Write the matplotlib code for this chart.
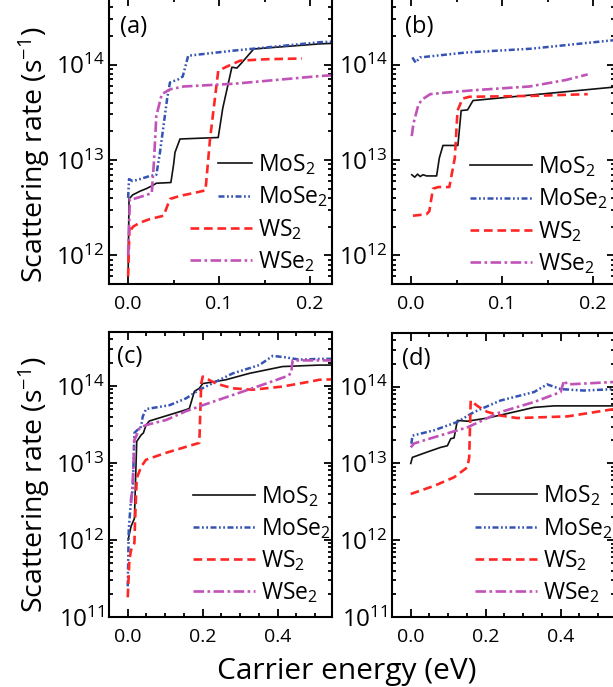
import numpy as np
import matplotlib
matplotlib.use('Agg')
import matplotlib.pyplot as plt
from matplotlib.ticker import LogLocator, MultipleLocator, FuncFormatter

plt.rcParams['font.family'] = ['Open Sans', 'DejaVu Sans']
plt.rcParams['mathtext.fontset'] = 'custom'
plt.rcParams['mathtext.rm'] = 'Open Sans'
plt.rcParams['mathtext.it'] = 'Open Sans:italic'
plt.rcParams['mathtext.bf'] = 'Open Sans:bold'
plt.rcParams['mathtext.default'] = 'regular'

labels = ['MoS$_2$', 'MoSe$_2$', 'WS$_2$', 'WSe$_2$']
panel_letters = ['(a)', '(b)', '(c)', '(d)']

# ---- panel (a) ----
a_mos2_x = [0, 0.001, 0.005, 0.013, 0.02, 0.027, 0.031, 0.047, 0.050, 0.0515, 0.057, 0.099, 0.104, 0.114, 0.1195, 0.125, 0.138, 0.21, 0.23]
a_mos2_y = [6e11, 3.9e12, 4.3e12, 4.7e12, 5.0e12, 5.4e12, 5.7e12, 5.8e12, 9e12, 1.2e13, 1.66e13, 1.72e13, 3.5e13, 9.4e13, 9.2e13, 1.05e14, 1.46e14, 1.65e14, 1.68e14]
a_mose2_x = [0, 0.001, 0.005, 0.013, 0.024, 0.031, 0.035, 0.043, 0.046, 0.055, 0.060, 0.066, 0.115, 0.211, 0.23]
a_mose2_y = [4e12, 6.3e12, 6.0e12, 6.3e12, 6.8e12, 7.0e12, 1.2e13, 4.5e13, 6.5e13, 7.0e13, 7.5e13, 1.24e14, 1.4e14, 1.72e14, 1.75e14]
a_ws2_x = [0, 0.0015, 0.003, 0.0055, 0.013, 0.024, 0.039, 0.046, 0.057, 0.072, 0.085, 0.09, 0.099, 0.108, 0.123, 0.152, 0.191]
a_ws2_y = [6e11, 2e12, 1.85e12, 2.0e12, 2.2e12, 2.4e12, 2.6e12, 3.9e12, 4.2e12, 4.5e12, 4.8e12, 1.66e13, 8.6e13, 9.5e13, 1.1e14, 1.14e14, 1.16e14]
a_wse2_x = [0, 0.002, 0.006, 0.017, 0.026, 0.0283, 0.031, 0.037, 0.046, 0.061, 0.116, 0.211, 0.23]
a_wse2_y = [1e12, 3.9e12, 3.9e12, 4.2e12, 4.5e12, 9.3e12, 2.9e13, 4.9e13, 5.5e13, 5.9e13, 6.3e13, 7.6e13, 7.8e13]

# ---- panel (b) ----
b_mos2_x = [0.0007, 0.004, 0.007, 0.010, 0.013, 0.017, 0.021, 0.028, 0.031, 0.035, 0.0514, 0.055, 0.062, 0.068, 0.23]
b_mos2_y = [7e12, 6.6e12, 7.1e12, 6.7e12, 7.0e12, 6.8e12, 6.8e12, 6.8e12, 1.05e13, 1.42e13, 1.42e13, 3.3e13, 3.35e13, 4.2e13, 5.9e13]
b_mose2_x = [0.0014, 0.005, 0.0097, 0.06, 0.132, 0.219, 0.23]
b_mose2_y = [1.19e14, 1.05e14, 1.19e14, 1.34e14, 1.47e14, 1.79e14, 1.82e14]
b_ws2_x = [0.002, 0.017, 0.020, 0.024, 0.030, 0.042, 0.048, 0.051, 0.0565, 0.064, 0.133, 0.194]
b_ws2_y = [2.6e12, 2.7e12, 2.9e12, 5.0e12, 5.2e12, 5.2e12, 1.05e13, 3.3e13, 4.4e13, 4.6e13, 4.7e13, 4.9e13]
b_wse2_x = [0.0007, 0.0025, 0.008, 0.012, 0.021, 0.039, 0.07, 0.13, 0.17, 0.194]
b_wse2_y = [1.78e13, 2.4e13, 3.8e13, 4.3e13, 4.9e13, 5.1e13, 5.4e13, 5.9e13, 6.9e13, 7.9e13]

# ---- panel (c) ----
c_mos2_x = [0.001, 0.0027, 0.0089, 0.0178, 0.024, 0.0356, 0.0418, 0.0489, 0.0578, 0.1556, 0.1644, 0.178, 0.191, 0.2, 0.262, 0.324, 0.413, 0.511, 0.56]
c_mos2_y = [1.0e12, 1.1e12, 1.5e12, 1.9e12, 1.9e13, 2.3e13, 2.45e13, 3.1e13, 3.5e13, 4.9e13, 5.1e13, 8.5e13, 9.3e13, 1.07e14, 1.2e14, 1.45e14, 1.78e14, 1.86e14, 1.86e14]
c_mose2_x = [0, 0.0027, 0.0089, 0.0133, 0.0178, 0.0267, 0.0356, 0.04, 0.0489, 0.111, 0.156, 0.191, 0.28, 0.351, 0.387, 0.422, 0.458, 0.511, 0.56]
c_mose2_y = [2.5e11, 1.35e12, 3.5e12, 4.5e12, 2.45e13, 2.7e13, 2.95e13, 4.0e13, 5.0e13, 5.6e13, 6.9e13, 8.9e13, 1.45e14, 1.86e14, 2.45e14, 2.34e14, 2.19e14, 2.24e14, 2.24e14]
c_ws2_x = [0, 0.0044, 0.0089, 0.0178, 0.0196, 0.024, 0.0356, 0.0489, 0.102, 0.156, 0.191, 0.196, 0.2, 0.236, 0.28, 0.333, 0.413, 0.493, 0.511, 0.56]
c_ws2_y = [1.8e11, 5.5e11, 7.4e11, 9.1e11, 1.8e12, 6.3e12, 8.9e12, 1.1e13, 1.35e13, 1.62e13, 1.82e13, 1.07e14, 1.32e14, 1.07e14, 9.3e13, 8.9e13, 9.8e13, 1.15e14, 1.2e14, 1.22e14]
c_wse2_x = [0.0089, 0.0133, 0.0178, 0.0222, 0.031, 0.0489, 0.102, 0.156, 0.2, 0.28, 0.369, 0.422, 0.436, 0.44, 0.511, 0.56]
c_wse2_y = [3.0e12, 5.5e12, 2.0e13, 2.2e13, 2.8e13, 3.1e13, 3.6e13, 4.7e13, 5.6e13, 7.6e13, 1.07e14, 1.32e14, 1.45e14, 2.14e14, 2.14e14, 2.14e14]

# ---- panel (d) ----
d_mos2_x = [0, 0.0044, 0.0444, 0.08, 0.0978, 0.1067, 0.1156, 0.1244, 0.151, 0.2044, 0.258, 0.329, 0.382, 0.542, 0.56]
d_mos2_y = [1.0e13, 1.2e13, 1.41e13, 1.62e13, 1.7e13, 2.1e13, 2.15e13, 3.63e13, 3.55e13, 3.9e13, 4.47e13, 5.37e13, 5.62e13, 5.62e13, 5.62e13]
d_mose2_x = [0.0018, 0.0044, 0.0622, 0.1244, 0.169, 0.24, 0.329, 0.364, 0.4, 0.462, 0.542, 0.56]
d_mose2_y = [1.8e13, 2.3e13, 2.7e13, 3.47e13, 4.68e13, 6.61e13, 8.51e13, 1.07e14, 9.3e13, 8.9e13, 9.3e13, 9.3e13]
d_ws2_x = [0, 0.0622, 0.1156, 0.151, 0.156, 0.16, 0.178, 0.204, 0.24, 0.284, 0.418, 0.542, 0.56]
d_ws2_y = [4.0e12, 5.1e12, 6.6e12, 8.9e12, 1.2e13, 6.6e13, 5.6e13, 4.7e13, 4.2e13, 3.9e13, 4.1e13, 5.1e13, 5.2e13]
d_wse2_x = [0, 0.0089, 0.0622, 0.151, 0.24, 0.329, 0.4, 0.409, 0.418, 0.542, 0.56]
d_wse2_y = [1.62e13, 1.82e13, 2.19e13, 2.95e13, 4.68e13, 6.31e13, 8.51e13, 1.2e14, 1.07e14, 1.15e14, 1.15e14]

panels = [
    [(a_mos2_x, a_mos2_y), (a_mose2_x, a_mose2_y), (a_ws2_x, a_ws2_y), (a_wse2_x, a_wse2_y)],
    [(b_mos2_x, b_mos2_y), (b_mose2_x, b_mose2_y), (b_ws2_x, b_ws2_y), (b_wse2_x, b_wse2_y)],
    [(c_mos2_x, c_mos2_y), (c_mose2_x, c_mose2_y), (c_ws2_x, c_ws2_y), (c_wse2_x, c_wse2_y)],
    [(d_mos2_x, d_mos2_y), (d_mose2_x, d_mose2_y), (d_ws2_x, d_ws2_y), (d_wse2_x, d_wse2_y)],
]

styles = [
    dict(color='#111111', lw=1.2, ls='-'),
    dict(color='#3552b5', lw=1.8, ls=(0, (2.4, 1.0, 0.7, 1.0, 0.7, 1.0))),
    dict(color='#ff2626', lw=1.9, ls=(0, (3.3, 1.8))),
    dict(color='#c052b8', lw=1.9, ls=(0, (4.0, 1.3, 1.0, 1.3))),
]

W, H = 613, 687
fig = plt.figure(figsize=(W / 100, H / 100), dpi=100)

def rect(l, r, t, b):
    return [l / W, 1 - b / H, (r - l) / W, (b - t) / H]

axes_rects = [rect(109, 332, -2, 284), rect(392, 615, -2, 284),
              rect(109, 332, 332, 617), rect(392, 615, 333, 617)]
xlims = [(-0.021, 0.224), (-0.021, 0.224), (-0.05, 0.545), (-0.05, 0.545)]
ylims = [(5e11, 5e14), (5e11, 5e14), (1e11, 5e14), (1e11, 5e14)]
xmajor = [0.1, 0.1, 0.2, 0.2]
letter_pos = [(0.05, 0.94), (0.058, 0.94), (0.036, 0.954), (0.045, 0.95)]
legend_pos = [(0.363, 0.46), (0.35, 0.453), (0.377, 0.467), (0.372, 0.47)]

sup = FuncFormatter(lambda v, p: '$10^{%d}$' % int(round(np.log10(v))))

for i, ax_r in enumerate(axes_rects):
    ax = fig.add_axes(ax_r)
    for (xs, ys), st, lab in zip(panels[i], styles, labels):
        ax.plot(xs, ys, label=lab, **st)
    ax.set_yscale('log')
    ax.set_xlim(*xlims[i])
    ax.set_ylim(*ylims[i])
    ax.yaxis.set_major_locator(LogLocator(base=10, numticks=10))
    ax.yaxis.set_minor_locator(LogLocator(base=10, subs=np.arange(2, 10), numticks=30))
    ax.yaxis.set_major_formatter(sup)
    ax.xaxis.set_major_locator(MultipleLocator(xmajor[i]))
    ax.xaxis.set_minor_locator(MultipleLocator(0.05))
    ax.xaxis.set_major_formatter(FuncFormatter(lambda v, p: '%.1f' % v))
    ax.tick_params(which='both', direction='in', top=True, right=True, width=1.3)
    ax.tick_params(which='major', length=5.5)
    ax.tick_params(which='minor', length=3)
    ax.tick_params(axis='x', labelsize=14, pad=8)
    ax.tick_params(axis='y', labelsize=17.5, pad=3)
    for s in ax.spines.values():
        s.set_linewidth(1.5)
    ax.text(letter_pos[i][0], letter_pos[i][1], panel_letters[i], transform=ax.transAxes,
            ha='left', va='top', fontsize=17)
    leg = ax.legend(loc='upper left', bbox_to_anchor=legend_pos[i], frameon=False,
                    fontsize=16.5, handlelength=2.7, handletextpad=0.25,
                    labelspacing=0.32, borderpad=0, borderaxespad=0)
    if i == 0:
        for ln in leg.get_lines()[:2]:
            xd = np.asarray(ln.get_xdata(), dtype=float)
            yd = np.asarray(ln.get_ydata(), dtype=float)
            start = xd[0] + 0.45 * (xd[-1] - xd[0])
            ln.set_data(np.linspace(start, xd[-1], len(xd)), yd)

fig.text(34 / W, 1 - 155 / H, 'Scattering rate (s$^{-1}$)', rotation=90,
         ha='center', va='center', fontsize=20.5)
fig.text(34 / W, 1 - 485 / H, 'Scattering rate (s$^{-1}$)', rotation=90,
         ha='center', va='center', fontsize=20.5)
fig.text(347 / W, 1 - 672 / H, 'Carrier energy (eV)', ha='center', va='center', fontsize=21.5)

fig.savefig('out.png', dpi=100)
